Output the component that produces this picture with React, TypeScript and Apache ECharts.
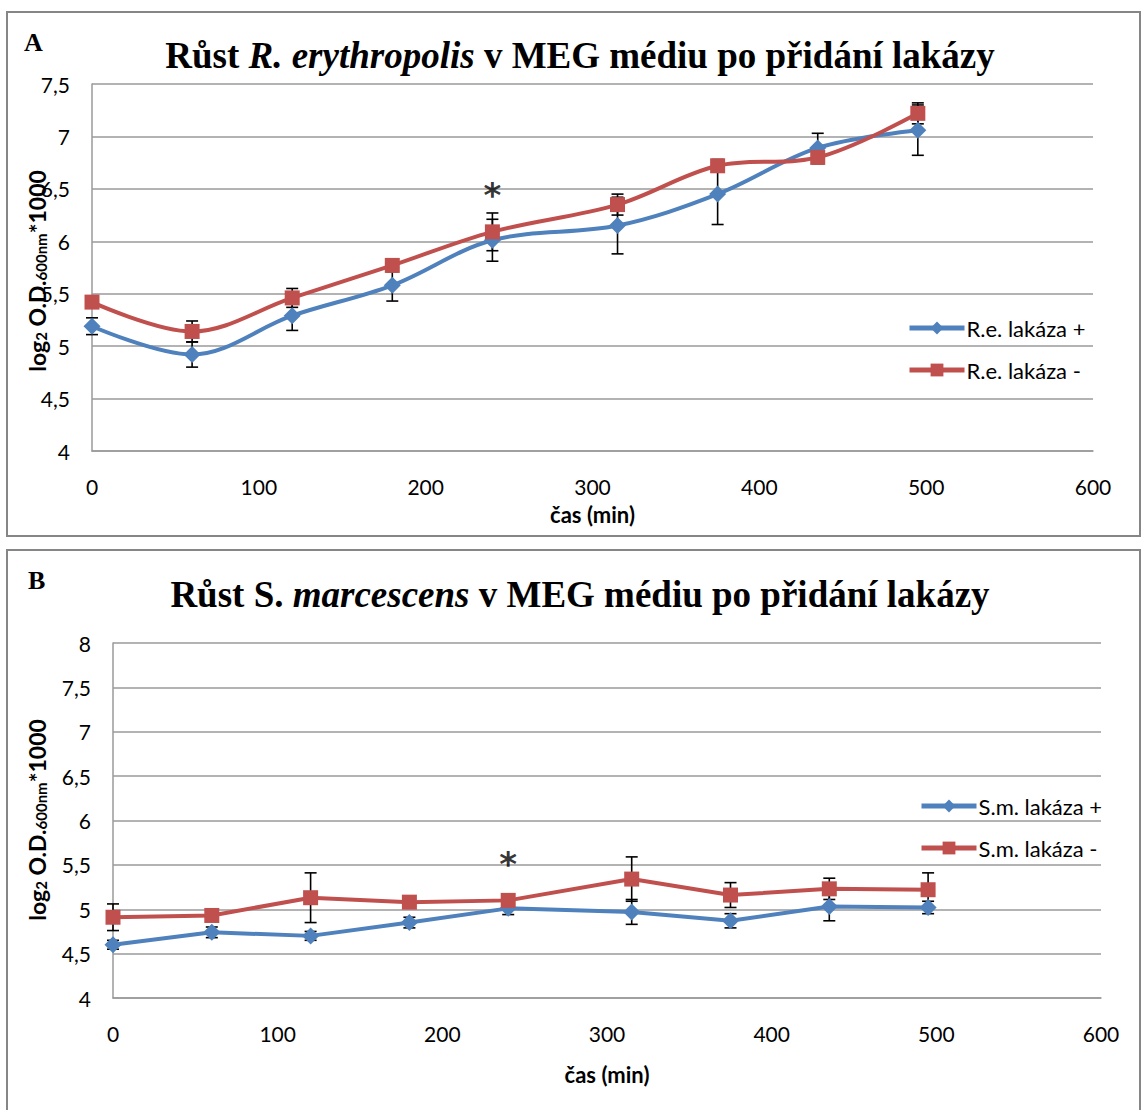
import React, { useEffect, useRef } from "react";
import * as echarts from "echarts";

// Time points (min)
const timeMin = [0, 60, 120, 180, 240, 315, 375, 435, 495];

// Panel A – R. erythropolis
const seriesNamesA = ["R.e. lakáza +", "R.e. lakáza -"];
const rePlus = [5.19, 4.92, 5.29, 5.58, 6.01, 6.15, 6.45, 6.89, 7.06];
const rePlusErr = [0.08, 0.12, 0.14, 0.15, 0.2, 0.27, 0.29, 0.14, 0.24];
const reMinus = [5.42, 5.14, 5.46, 5.77, 6.09, 6.35, 6.72, 6.8, 7.22];
const reMinusErr = [0.05, 0.1, 0.09, 0.06, 0.18, 0.1, 0.06, 0.06, 0.1];
const asteriskA = [[240, 6.44]];

// Panel B – S. marcescens
const seriesNamesB = ["S.m. lakáza +", "S.m. lakáza -"];
const smPlus = [4.6, 4.74, 4.7, 4.85, 5.01, 4.97, 4.87, 5.03, 5.02];
const smPlusErr = [0.05, 0.06, 0.05, 0.06, 0.07, 0.14, 0.08, 0.16, 0.07];
const smMinus = [4.91, 4.93, 5.13, 5.08, 5.1, 5.34, 5.16, 5.23, 5.22];
const smMinusErr = [0.15, 0.05, 0.28, 0.05, 0.05, 0.25, 0.14, 0.12, 0.19];
const asteriskB = [[240, 5.51]];

const BLUE = "#4F81BD";
const RED = "#C0504D";
const GRID = "#9a9a9a";
const SANS = "Lato";
const SERIF = "Liberation Serif";

const fmt = (v: number) => String(v).replace(".", ",");

function lineSeries(name: string, data: number[], color: string, symbol: string, size: number, idx: number, smooth: number | boolean) {
  return {
    type: "line",
    name,
    xAxisIndex: idx,
    yAxisIndex: idx,
    data: timeMin.map((t, i) => [t, data[i]]),
    smooth,
    symbol,
    symbolSize: size,
    showSymbol: true,
    z: 3,
    lineStyle: { color, width: 4 },
    itemStyle: { color },
  };
}

function errSeries(name: string, data: number[], err: number[], idx: number) {
  return {
    type: "custom",
    name,
    xAxisIndex: idx,
    yAxisIndex: idx,
    z: 2,
    silent: true,
    data: timeMin.map((t, i) => [t, data[i], err[i]]),
    encode: { x: 0, y: 1 },
    renderItem: (_p: any, api: any) => {
      const x = api.value(0);
      const y = api.value(1);
      const e = api.value(2);
      const top = api.coord([x, y + e]);
      const bot = api.coord([x, y - e]);
      const w = 6;
      const style = { stroke: "#000", lineWidth: 1.6 };
      return {
        type: "group",
        children: [
          { type: "line", shape: { x1: top[0], y1: top[1], x2: bot[0], y2: bot[1] }, style },
          { type: "line", shape: { x1: top[0] - w, y1: top[1], x2: top[0] + w, y2: top[1] }, style },
          { type: "line", shape: { x1: bot[0] - w, y1: bot[1], x2: bot[0] + w, y2: bot[1] }, style },
        ],
      };
    },
  };
}

function starSeries(data: number[][], idx: number) {
  return {
    type: "scatter",
    name: "star" + idx,
    xAxisIndex: idx,
    yAxisIndex: idx,
    data,
    symbolSize: 1,
    itemStyle: { color: "rgba(0,0,0,0)" },
    silent: true,
    label: {
      show: true,
      position: "inside",
      formatter: "*",
      fontFamily: "DejaVu Sans",
      fontSize: 34,
      fontWeight: "bold",
      color: "#000",
    },
  };
}

function xAxis(idx: number, nameGap: number) {
  return {
    type: "value",
    gridIndex: idx,
    min: 0,
    max: 600,
    interval: 100,
    name: "čas (min)",
    nameLocation: "middle",
    nameGap,
    nameTextStyle: { fontFamily: SANS, fontSize: 22, fontWeight: "bold", color: "#000" },
    axisLine: { show: true, lineStyle: { color: GRID, width: 1.5 } },
    axisTick: { show: false },
    splitLine: { show: false },
    axisLabel: { fontFamily: SANS, fontSize: 21, color: "#000", margin: 25 },
  };
}

function yAxis(idx: number, max: number) {
  return {
    type: "value",
    gridIndex: idx,
    min: 4,
    max,
    interval: 0.5,
    axisLine: { show: true, lineStyle: { color: GRID, width: 1.5 } },
    axisTick: { show: false },
    splitLine: { show: true, lineStyle: { color: GRID, width: 1.5 } },
    axisLabel: { fontFamily: SANS, fontSize: 21, color: "#000", margin: 22, formatter: fmt },
  };
}

const yNameRich = {
  b: { fontFamily: SANS, fontSize: 23, fontWeight: "bold", fill: "#000", lineHeight: 30, verticalAlign: "bottom" },
  s: { fontFamily: SANS, fontSize: 15, fontWeight: "bold", fill: "#000", lineHeight: 11, verticalAlign: "bottom" },
};

const titleRich = {
  b: { fontFamily: SERIF, fontSize: 37, fontWeight: "bold", fill: "#000" },
  i: { fontFamily: SERIF, fontSize: 37, fontWeight: "bold", fontStyle: "italic", fill: "#000" },
};

function legend(names: string[], left: number, top: number) {
  return {
    data: names,
    orient: "vertical",
    left,
    top,
    itemWidth: 55,
    itemHeight: 16,
    itemGap: 20,
    lineStyle: { width: 5 },
    textStyle: { fontFamily: SANS, fontSize: 22, color: "#000", padding: [0, 0, 0, -3] },
  };
}

export default function App() {
  const ref = useRef<HTMLDivElement>(null);
  useEffect(() => {
    document.body.style.margin = "0";
    const chart = echarts.init(ref.current!, null, { renderer: "svg" });
    const option: any = {
      animation: false,
      backgroundColor: "#fff",
      grid: [
        { left: 92, top: 84, width: 1001, height: 367 },
        { left: 113, top: 643, width: 988, height: 355 },
      ],
      xAxis: [xAxis(0, 52), xAxis(1, 65)],
      yAxis: [yAxis(0, 7.5), yAxis(1, 8)],
      legend: [legend(seriesNamesA, 902, 312), legend(seriesNamesB, 914, 790)],
      series: [
        errSeries("errA+", rePlus, rePlusErr, 0),
        errSeries("errA-", reMinus, reMinusErr, 0),
        lineSeries(seriesNamesA[0], rePlus, BLUE, "diamond", 17, 0, 0.35),
        lineSeries(seriesNamesA[1], reMinus, RED, "rect", 15, 0, 0.35),
        starSeries(asteriskA, 0),
        errSeries("errB+", smPlus, smPlusErr, 1),
        errSeries("errB-", smMinus, smMinusErr, 1),
        lineSeries(seriesNamesB[0], smPlus, BLUE, "diamond", 17, 1, false),
        lineSeries(seriesNamesB[1], smMinus, RED, "rect", 15, 1, false),
        starSeries(asteriskB, 1),
      ],
      graphic: [
        { type: "rect", shape: { x: 7, y: 12, width: 1133, height: 524 }, style: { fill: "none", stroke: "#868686", lineWidth: 2 } },
        { type: "rect", shape: { x: 7, y: 550, width: 1133, height: 580 }, style: { fill: "none", stroke: "#868686", lineWidth: 2 } },
        { type: "text", x: 24, y: 42, style: { text: "A", fontFamily: SERIF, fontWeight: "bold", fontSize: 26, fill: "#000", verticalAlign: "middle" } },
        { type: "text", x: 28, y: 580, style: { text: "B", fontFamily: SERIF, fontWeight: "bold", fontSize: 26, fill: "#000", verticalAlign: "middle" } },
        {
          type: "text",
          x: 580,
          y: 55,
          style: {
            text: "{b|Růst }{i|R. erythropolis}{b| v MEG médiu po přidání lakázy}",
            rich: titleRich,
            align: "center",
            verticalAlign: "middle",
          },
        },
        {
          type: "text",
          x: 580,
          y: 594,
          style: {
            text: "{b|Růst S. }{i|marcescens}{b| v MEG médiu po přidání lakázy}",
            rich: titleRich,
            align: "center",
            verticalAlign: "middle",
          },
        },
        {
          type: "text",
          x: 33,
          y: 271,
          rotation: Math.PI / 2,
          style: { text: "{b|log}{s|2}{b| O.D.}{s|600nm}{b|*1000}", rich: yNameRich, align: "center", verticalAlign: "middle" },
        },
        {
          type: "text",
          x: 33,
          y: 820,
          rotation: Math.PI / 2,
          style: { text: "{b|log}{s|2}{b| O.D.}{s|600nm}{b|*1000}", rich: yNameRich, align: "center", verticalAlign: "middle" },
        },
      ],
    };
    chart.setOption(option);
    return () => chart.dispose();
  }, []);
  return <div ref={ref} style={{ width: 1142, height: 1110 }} />;
}
